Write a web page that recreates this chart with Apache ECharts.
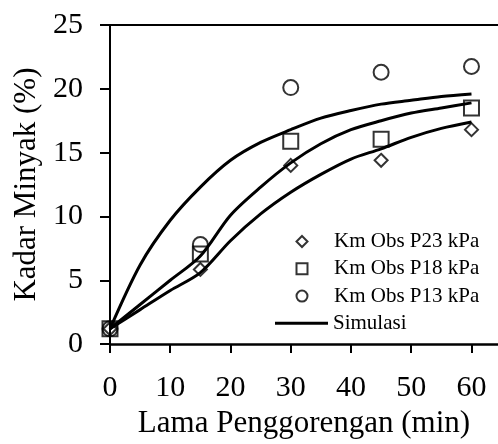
<!DOCTYPE html>
<html>
<head>
<meta charset="utf-8">
<script src="https://cdn.jsdelivr.net/npm/echarts@6/dist/echarts.min.js"></script>
<style>
html,body{margin:0;padding:0;background:#fff;}
#chart{width:498px;height:444px;}
</style>
</head>
<body>
<div id="chart"></div>
<script>
// Observation times (min)
var obsTime = [0, 15, 30, 45, 60];
// Observed oil content (%)
var obsP23 = [1.2, 5.85, 14.0, 14.4, 16.8];
var obsP18 = [1.2, 7.05, 15.9, 16.05, 18.5];
var obsP13 = [1.2, 7.8, 20.1, 21.3, 21.75];
// Simulation times (min)
var simTime = [0, 5, 10, 15, 20, 25, 30, 35, 40, 45, 50, 55, 60];
var simP13 = [1.2, 6.2, 9.7, 12.3, 14.4, 15.8, 16.8, 17.7, 18.3, 18.8, 19.1, 19.4, 19.6];
var simP18 = [1.2, 3.1, 5.0, 6.9, 10.1, 12.3, 14.2, 15.7, 16.8, 17.5, 18.1, 18.5, 18.9];
var simP23 = [1.2, 2.7, 4.2, 5.6, 8.1, 10.2, 11.9, 13.3, 14.5, 15.3, 16.2, 16.9, 17.4];
// Tick labels
var xTicks = [0, 10, 20, 30, 40, 50, 60];
var yTicks = [0, 5, 10, 15, 20, 25];

function pairs(xs, ys) { return xs.map(function (x, i) { return [x, ys[i]]; }); }

var FONT = 'Liberation Serif';
var chart = echarts.init(document.getElementById('chart'));

function simSeries(data) {
  return {
    type: 'line', name: 'Simulasi', data: pairs(simTime, data),
    symbol: 'none', smooth: 0.3,
    lineStyle: { color: '#000', width: 3 }, itemStyle: { color: '#000' },
    z: 2
  };
}
function obsSeries(name, data, symbol, size) {
  return {
    type: 'scatter', name: name, data: pairs(obsTime, data),
    symbol: symbol, symbolSize: size,
    itemStyle: { color: 'rgba(0,0,0,0)', borderColor: '#000', borderWidth: 2 },
    z: 3
  };
}

chart.setOption({
  animation: false,
  backgroundColor: '#fff',
  textStyle: { fontFamily: FONT, color: '#000' },
  grid: { left: 110, right: 0, top: 25, bottom: 94 },
  legend: [{
    data: [
      { name: 'Km Obs P23 kPa', icon: 'diamond' },
      { name: 'Km Obs P18 kPa', icon: 'rect' },
      { name: 'Km Obs P13 kPa', icon: 'circle' }
    ],
    orient: 'vertical', left: 295.5, top: 231, padding: 0,
    itemWidth: 11, itemHeight: 11, itemGap: 6.3,
    textStyle: { fontFamily: FONT, fontSize: 21, lineHeight: 21, color: '#000', padding: [0, 0, 0, 21.5] },
    itemStyle: { borderWidth: 2 }
  }, {
    data: [{ name: 'Simulasi', icon: 'rect' }],
    orient: 'vertical', left: 275, top: 312.8, padding: 0,
    itemWidth: 53, itemHeight: 3,
    textStyle: { fontFamily: FONT, fontSize: 21, lineHeight: 21, color: '#000' },
    itemStyle: { color: '#000', borderWidth: 0 }
  }],
  xAxis: [{
    type: 'value', min: 0, max: 64.4, interval: 10,
    name: 'Lama Penggorengan (min)', nameLocation: 'middle', nameGap: 60,
    nameTextStyle: { fontFamily: FONT, fontSize: 31, color: '#000' },
    axisLine: { show: true, onZero: false, lineStyle: { color: '#000', width: 2.5 } },
    axisTick: { show: true, length: 9, customValues: xTicks, lineStyle: { color: '#000', width: 2 } },
    axisLabel: { customValues: xTicks, margin: 29, fontFamily: FONT, fontSize: 30, color: '#000' },
    splitLine: { show: false }
  }, {
    type: 'value', position: 'top', min: 0, max: 64.4,
    axisLine: { show: true, onZero: false, lineStyle: { color: '#000', width: 2 } },
    axisTick: { show: false }, axisLabel: { show: false }, splitLine: { show: false }
  }],
  yAxis: {
    type: 'value', min: 0, max: 25, interval: 5,
    name: 'Kadar Minyak (%)', nameLocation: 'middle', nameGap: 65, nameRotate: 90,
    nameTextStyle: { fontFamily: FONT, fontSize: 31, color: '#000' },
    axisLine: { show: true, onZero: false, lineStyle: { color: '#000', width: 2 } },
    axisTick: { show: true, length: 10, lineStyle: { color: '#000', width: 2 } },
    axisLabel: { margin: 27, fontFamily: FONT, fontSize: 30, color: '#000',
      formatter: function (v) { return yTicks.indexOf(v) >= 0 ? String(v) : ''; } },
    splitLine: { show: false }
  },
  series: [
    obsSeries('Km Obs P23 kPa', obsP23, 'diamond', 13),
    obsSeries('Km Obs P18 kPa', obsP18, 'rect', 15),
    obsSeries('Km Obs P13 kPa', obsP13, 'circle', 15),
    simSeries(simP13),
    simSeries(simP18),
    simSeries(simP23)
  ]
});
</script>
</body>
</html>
